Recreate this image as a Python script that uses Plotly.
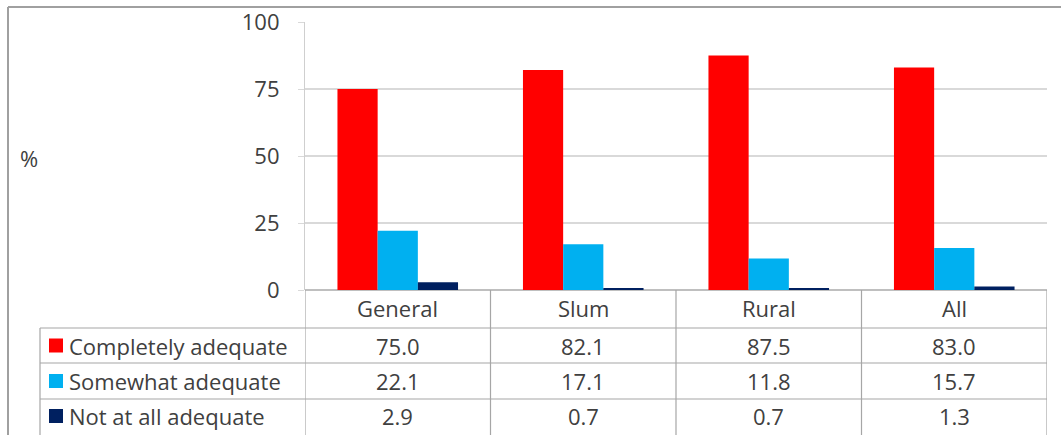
import plotly.graph_objects as go

# Categories and series values (%)
categories = ["General", "Slum", "Rural", "All"]
series_names = ["Completely adequate", "Somewhat adequate", "Not at all adequate"]
completely = [75.0, 82.1, 87.5, 83.0]
somewhat = [22.1, 17.1, 11.8, 15.7]
not_at_all = [2.9, 0.7, 0.7, 1.3]
series_values = [completely, somewhat, not_at_all]
series_colors = ["#ff0000", "#00b0f0", "#002060"]
y_ticks = [0, 25, 50, 75, 100]

W, H = 1061, 435
FONT = "Open Sans"
FS = 22
TEXT = "#404040"
GRID = "#d9d9d9"
TABLE_LINE = "#a6a6a6"


def py(px):
    """pixel row (from top) -> paper y"""
    return (H - px) / H


def pxx(px):
    """pixel column (from left) -> paper x"""
    return px / W


def cell_text(x, y, text, xref="x", xanchor="center"):
    return dict(x=x, y=y, xref=xref, yref="paper", text=text, showarrow=False,
                xanchor=xanchor, yanchor="middle",
                font=dict(family=FONT, size=FS, color=TEXT))


fig = go.Figure()
for name, vals, col in zip(series_names, series_values, series_colors):
    fig.add_trace(go.Bar(x=categories, y=vals, name=name, marker_color=col,
                         marker_line_width=0, showlegend=False,
                         hoverinfo="x+y+name"))

shapes = []
annotations = []

# data table: row geometry
header_center = py(308)
row_tops = [py(328), py(363), py(399)]
row_centers = [py(345.5), py(381), py(416)]

# header row: category names
for c in categories:
    annotations.append(cell_text(c, header_center, c))

# value cells, legend keys and series labels
for r, (name, vals, col) in enumerate(zip(series_names, series_values, series_colors)):
    for c, v in zip(categories, vals):
        annotations.append(cell_text(c, row_centers[r], f"{v:.1f}"))
    shapes.append(dict(type="rect", xref="paper", yref="paper",
                       x0=pxx(49), x1=pxx(63),
                       y0=row_centers[r] - 7 / H, y1=row_centers[r] + 7 / H,
                       fillcolor=col, line=dict(width=0)))
    annotations.append(cell_text(pxx(67), row_centers[r], name,
                                 xref="paper", xanchor="left"))

# horizontal table rules
for yt in row_tops:
    shapes.append(dict(type="line", xref="paper", yref="paper",
                       x0=pxx(40), x1=pxx(1047), y0=yt, y1=yt,
                       line=dict(color=TABLE_LINE, width=1.2)))
# left edge of legend column
shapes.append(dict(type="line", xref="paper", yref="paper",
                   x0=pxx(40), x1=pxx(40), y0=row_tops[0], y1=0,
                   line=dict(color=TABLE_LINE, width=1.2)))
# column separators, placed on the category scale
for k in range(len(categories) + 1):
    xv = k - 0.5
    shapes.append(dict(type="line", xref="x", yref="paper",
                       x0=xv, x1=xv, y0=py(290), y1=0,
                       line=dict(color=TABLE_LINE, width=1.2)))

# outer frame (top and left)
shapes.append(dict(type="line", xref="paper", yref="paper",
                   x0=pxx(8), x1=1, y0=py(7), y1=py(7),
                   line=dict(color="#a0a0a0", width=2)))
shapes.append(dict(type="line", xref="paper", yref="paper",
                   x0=pxx(8), x1=pxx(8), y0=py(7), y1=0,
                   line=dict(color="#a0a0a0", width=2)))

# y-axis title
annotations.append(cell_text(pxx(29), py(158), "%", xref="paper"))

fig.update_layout(
    width=W, height=H,
    margin=dict(l=0, r=0, t=0, b=0, autoexpand=False),
    paper_bgcolor="white", plot_bgcolor="white",
    barmode="group", bargap=0.35, bargroupgap=0,
    shapes=shapes, annotations=annotations,
    xaxis=dict(domain=[pxx(305), pxx(1047)], showticklabels=False,
               showgrid=False, zeroline=False, showline=False, ticks="",
               automargin=False,
               range=[-0.5, len(categories) - 0.5]),
    yaxis=dict(domain=[py(290), py(22)], range=[0, 100], tickvals=y_ticks,
               automargin=False,
               showgrid=True, gridcolor=GRID, gridwidth=1.5,
               zeroline=True, zerolinecolor="#bfbfbf", zerolinewidth=1.5,
               showline=True, linecolor="#cfcfcf", linewidth=1.2,
               ticks="outside", ticklen=6, tickcolor=GRID,
               ticklabelstandoff=14,
               tickfont=dict(family=FONT, size=FS, color=TEXT)),
    font=dict(family=FONT, color=TEXT),
)

fig.write_html("out.html")
